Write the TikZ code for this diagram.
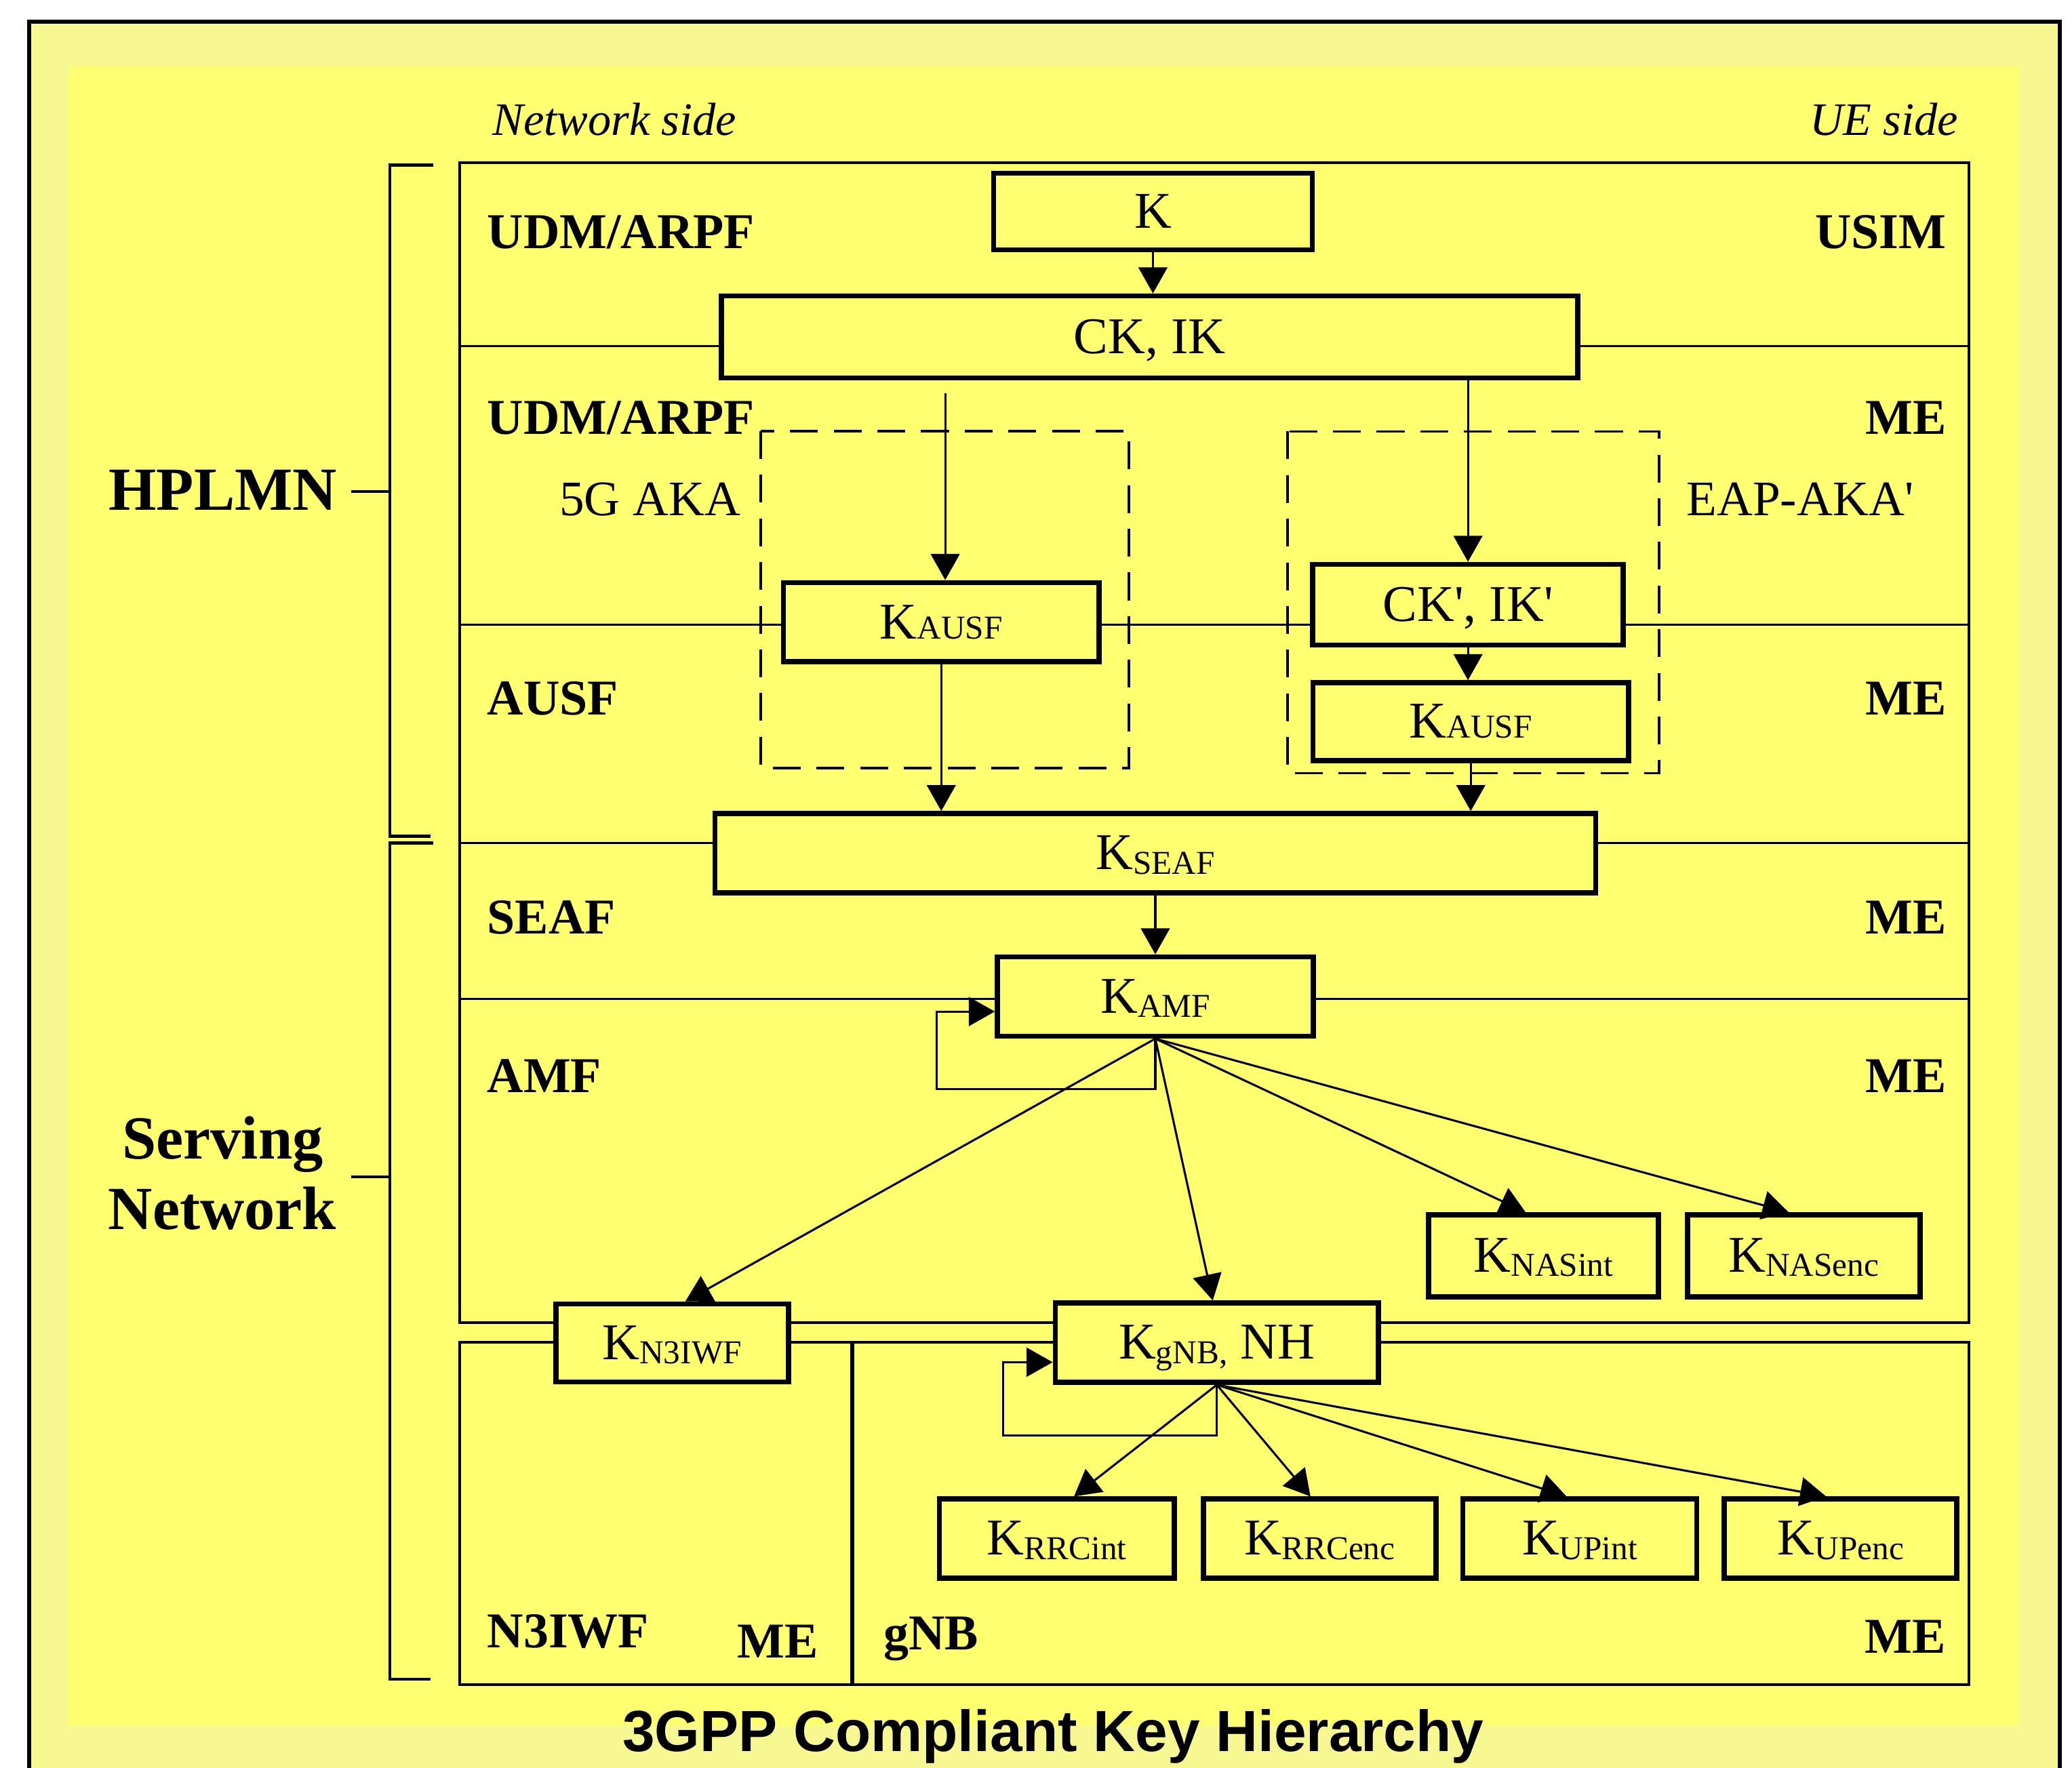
\documentclass[tikz,border=0pt]{standalone}
\usepackage{fontspec}
\setmainfont{Liberation Serif}
\newfontfamily\titlefont{Liberation Sans}
\usetikzlibrary{arrows.meta,calc}
\definecolor{bright}{RGB}{255,255,112}
\definecolor{pale}{RGB}{248,248,146}
\newcommand\ks[1]{\raisebox{-0.9pt}{\fontsize{7.2}{8}\selectfont #1}}
\newcommand\kz[1]{{\fontsize{7.2}{8}\selectfont #1}}
\tikzset{
  kbox/.style={draw, line width=1.1pt, fill=bright, inner sep=0pt, text height=7.1pt, text depth=0pt,
               font=\fontsize{11.1}{13}\selectfont, minimum height=6mm},
  lab/.style={inner sep=0pt, font=\fontsize{10.8}{13}\selectfont\bfseries},
  big/.style={inner sep=0pt, font=\fontsize{13.2}{15}\selectfont\bfseries},
  side/.style={inner sep=0pt, font=\fontsize{10}{12}\selectfont\itshape},
  proto/.style={inner sep=0pt, font=\fontsize{10.7}{13}\selectfont},
  arr/.style={line width=0.45pt, -{Triangle[length=5.6pt,width=6.2pt]}},
  sect/.style={line width=0.45pt},
  frameline/.style={line width=0.6pt},
  dbox/.style={line width=0.5pt, dash pattern=on 6pt off 3.4pt},
  brack/.style={line width=0.65pt},
}
\begin{document}
\begin{tikzpicture}[x=0.1mm,y=-0.1mm]
\useasboundingbox (0,0) rectangle (1568,1338);
\clip (0,0) rectangle (1568,1338);
\fill[white] (0,0) rectangle (1568,1338);
\filldraw[fill=pale, line width=0.8pt] (22,16.5) rectangle (1558.7,1400);
\fill[bright] (52.3,50.5) rectangle (1527.5,1306);

% frames and section lines
\draw[frameline] (348,123) rectangle (1490,1001);
\draw[sect] (348,262) -- (1490,262);
\draw[sect] (348,472.6) -- (1490,472.6);
\draw[sect] (348,638) -- (1490,638);
\draw[sect] (348,756) -- (1490,756);
\draw[frameline] (348,1016) rectangle (1490,1275);
\draw[line width=0.9pt] (645,1016) -- (645,1275);

% dashed groups
\draw[dbox] (575.7,326.3) rectangle (854.3,581.4);
\draw[dbox] (974.4,326.5) rectangle (1255.5,585.2);

% brackets
\draw[brack] (328,125) -- (295,125) -- (295,632.8) -- (326,632.8);
\draw[sect] (265.6,372) -- (295,372);
\draw[brack] (328,638) -- (295,638) -- (295,1271) -- (326,1271);
\draw[sect] (265.6,890.7) -- (295,890.7);

% key boxes
\node[kbox, minimum width=24.1mm, minimum height=5.8mm] (K) at (872.5,160) {K};
\node[kbox, minimum width=64.8mm, minimum height=6.2mm] (CKIK) at (870,255) {CK, IK};
\node[kbox, minimum width=23.9mm] (KA1) at (712.3,470.9) {K\kz{AUSF}};
\node[kbox, minimum width=23.5mm, minimum height=6.1mm] (CK2) at (1110.9,457.6) {CK\textquotesingle, IK\textquotesingle};
\node[kbox, minimum width=23.9mm, minimum height=5.9mm] (KA2) at (1113,546.2) {K\kz{AUSF}};
\node[kbox, minimum width=66.65mm] (KSEAF) at (874.3,645.8) {K\ks{SEAF}};
\node[kbox, minimum width=23.9mm] (KAMF) at (874.3,754.2) {K\ks{AMF}};
\node[kbox, minimum width=17.4mm, minimum height=6.2mm] (KNI) at (1168,950.4) {K\ks{NASint}};
\node[kbox, minimum width=17.6mm, minimum height=6.2mm] (KNE) at (1365,950.4) {K\ks{NASenc}};
\node[kbox, minimum width=17.6mm, minimum height=5.9mm] (KN3) at (508.6,1016.4) {K\ks{N3IWF}};
\node[kbox, minimum width=24.45mm] (KGNB) at (920.8,1016.2) {K\ks{gNB,} NH};
\node[kbox, minimum width=17.77mm] (KRI) at (799.8,1164.5) {K\ks{RRCint}};
\node[kbox, minimum width=17.6mm] (KRE) at (998.7,1164.5) {K\ks{RRCenc}};
\node[kbox, minimum width=17.7mm] (KUI) at (1195.5,1164.5) {K\ks{UPint}};
\node[kbox, minimum width=17.6mm] (KUE) at (1392.9,1164.5) {K\ks{UPenc}};

% labels
\node[side, anchor=base west] (ns) at (372,102.6) {Network side};
\node[side, anchor=base east] (ue) at (1482.5,102.6) {UE side};
\node[lab, anchor=base west] (l1) at (368,188) {UDM/ARPF};
\node[lab, anchor=base east] (r1) at (1473.5,188) {USIM};
\node[lab, anchor=base west] (l2) at (368,328.5) {UDM/ARPF};
\node[lab, anchor=base east] (r2) at (1473.5,328.5) {ME};
\node[proto, anchor=base east] (p1) at (561,390) {5G AKA};
\node[proto, anchor=base west] (p2) at (1275.6,390) {EAP-AKA\textquotesingle};
\node[lab, anchor=base west] (l3) at (368,541) {AUSF};
\node[lab, anchor=base east] (r3) at (1473.5,541) {ME};
\node[lab, anchor=base west] (l4) at (368,707) {SEAF};
\node[lab, anchor=base east] (r4) at (1473.5,707) {ME};
\node[lab, anchor=base west] (l5) at (368,826.6) {AMF};
\node[lab, anchor=base east] (r5) at (1473.5,826.6) {ME};
\node[lab, anchor=base west] (l6) at (368,1247) {N3IWF};
\node[lab, anchor=base east] (r6) at (620,1254.5) {ME};
\node[lab, anchor=base west] (l7) at (668,1248.5) {gNB};
\node[lab, anchor=base east] (r7) at (1473,1251) {ME};
\node[big, anchor=base west] (hp) at (81.6,386) {HPLMN};
\node[big, anchor=base] (sv1) at (168.5,877) {Serving};
\node[big, anchor=base] (sv2) at (168.3,930.5) {Network};
\node[anchor=base, inner sep=0pt, font=\fontsize{12.5}{15}\titlefont\bfseries] (title) at (797,1325.5) {3GPP Compliant Key Hierarchy};

% arrows
\draw[arr] (K.south) -- (K.south |- CKIK.north);
\draw[arr] ($(CKIK.south -| KA1.north)+(3,9.5)$) -- ($(KA1.north)+(3,0)$);
\draw[arr] (CKIK.south -| CK2.north) -- (CK2.north);
\draw[arr] (CK2.south) -- (CK2.south |- KA2.north);
\draw[arr] (KA1.south) -- (KA1.south |- KSEAF.north);
\draw[arr] (KA2.south) -- (KA2.south |- KSEAF.north);
\draw[arr] (KSEAF.south) -- (KAMF.north);
\draw[arr] (KAMF.south) -- ++(0,38.2) -| ($(KAMF.west)+(-43.9,11.4)$) -- ($(KAMF.west)+(0,11.4)$);
\draw[arr] (KAMF.south) -- ($(KN3.north)+(10,0)$);
\draw[arr] (KAMF.south) -- ($(KGNB.north)+(-3,0)$);
\draw[arr] (KAMF.south) -- ($(KNI.north)+(-13.5,0)$);
\draw[arr] (KAMF.south) -- ($(KNE.north)+(-11.5,0)$);
\draw[arr] (KGNB.south) -- ++(0,38.5) -| ($(KGNB.west)+(-37.5,14.8)$) -- ($(KGNB.west)+(0,14.8)$);
\draw[arr] (KGNB.south) -- ($(KRI.north)+(13,0)$);
\draw[arr] (KGNB.south) -- ($(KRE.north)+(-7,0)$);
\draw[arr] (KGNB.south) -- ($(KUI.north)+(-10,0)$);
\draw[arr] (KGNB.south) -- ($(KUE.north)+(-11,0)$);
\end{tikzpicture}
\end{document}
